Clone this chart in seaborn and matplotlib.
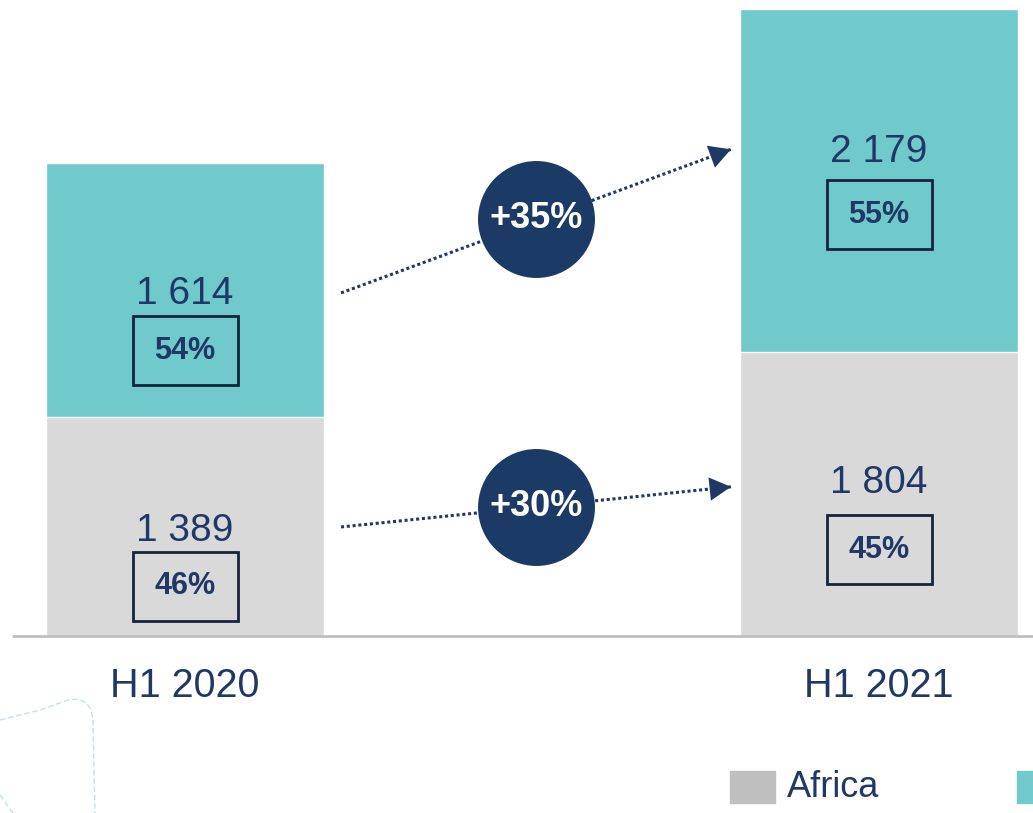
import matplotlib
matplotlib.use('Agg')
import matplotlib.pyplot as plt
import seaborn as sns
import pandas as pd
from matplotlib.patches import Rectangle, PathPatch
from matplotlib.path import Path

# data
periods = ['H1 2020', 'H1 2021']
africa = [1389, 1804]
rest = [1614, 2179]
africa_share = ['46%', '45%']
rest_share = ['54%', '55%']
growth_labels = ['+35%', '+30%']   # rest, africa
legend_labels = ['Africa']

# label placement (data units)
rest_label_y = [2170, 3070]
rest_box_y = [1810, 2673]
africa_label_y = [668, 970]
africa_box_y = [317, 546]

TEAL = '#70C9CA'
GREY = '#D9D9D9'
LEGEND_GREY = '#BFBFBF'
NAVY = '#1F3864'
CIRCLE = '#1B3A66'
BOX_EDGE = '#16253B'

sns.set_style('white')
plt.rcParams['font.family'] = ['Liberation Sans', 'DejaVu Sans']

df = pd.DataFrame({'period': periods, 'africa': africa, 'rest': rest})
df['total'] = df['africa'] + df['rest']

fig = plt.figure(figsize=(10.33, 8.13), dpi=100)
ax = fig.add_axes([0, 0, 1, 1])

# stacked bars: total first, then africa on top of it
sns.barplot(data=df, x='period', y='total', color=TEAL, width=0.4006,
            saturation=1, ax=ax)
sns.barplot(data=df, x='period', y='africa', color=GREY, width=0.4006,
            saturation=1, ax=ax)

ax.set_xlim(-0.2666, 1.2219)
ax.set_ylim(-1124, 4038)
ax.axis('off')

# baseline
ax.hlines(0, -0.2493, 1.25, color=LEGEND_GREY, lw=2, zorder=3)

box_w = 0.1513
box_h = 438

for i, period in enumerate(periods):
    # values
    ax.text(i, rest_label_y[i], f'{rest[i]:,}'.replace(',', ' '), ha='center',
            va='center', fontsize=28, color=NAVY)
    ax.text(i, africa_label_y[i], f'{africa[i]:,}'.replace(',', ' '), ha='center',
            va='center', fontsize=28, color=NAVY)

    # share boxes
    for y, txt in [(rest_box_y[i], rest_share[i]), (africa_box_y[i], africa_share[i])]:
        ax.add_patch(Rectangle((i - box_w / 2, y - box_h / 2), box_w, box_h,
                               fill=False, edgecolor=BOX_EDGE, lw=2, zorder=4))
        ax.text(i, y, txt, ha='center', va='center', fontsize=22,
                fontweight='bold', color=NAVY, zorder=5)

    # category labels
    ax.text(i, -317, period, ha='center', va='center', fontsize=28.5, color=NAVY)

# growth arrows
arrows = [((0.2248, 2178), (0.7867, 3090)), ((0.2248, 692), (0.7867, 947))]
circle_y = [2650, 822]
for (start, end), cy, label in zip(arrows, circle_y, growth_labels):
    ax.plot([start[0], end[0]], [start[1], end[1]], color=NAVY, lw=2.2,
            linestyle=(0, (1, 0.9)), zorder=2)
    dx = end[0] - start[0]
    dy = end[1] - start[1]
    ax.annotate('', xy=end, xytext=(end[0] - dx * 0.05, end[1] - dy * 0.05),
                arrowprops=dict(arrowstyle='-|>,head_length=0.55,head_width=0.3',
                                color=NAVY, lw=0, mutation_scale=28,
                                shrinkA=0, shrinkB=0), zorder=2)
    ax.scatter([0.5058], [cy], s=7090, color=CIRCLE, zorder=5, linewidths=0)
    ax.text(0.5058, cy, label, ha='center', va='center', fontsize=26,
            fontweight='bold', color='white', zorder=6)

# legend (second entry runs off the right edge)
W, H = 1033, 813
fig.patches.append(Rectangle((730 / W, (H - 803) / H), 45 / W, 32 / H,
                             transform=fig.transFigure, color=LEGEND_GREY))
fig.text(787 / W, (H - 787) / H, legend_labels[0], ha='left', va='center',
         fontsize=26, color=NAVY)
fig.patches.append(Rectangle((1017 / W, (H - 803) / H), 45 / W, 32 / H,
                             transform=fig.transFigure, color=TEAL))

# faint decorative outline bottom-left
verts = [(0, 720), (40, 710), (68, 700), (93, 695), (93, 725), (95, 813)]
codes = [Path.MOVETO, Path.LINETO, Path.LINETO, Path.CURVE3, Path.CURVE3, Path.LINETO]
deco = Path([(x / W, (H - y) / H) for x, y in verts], codes)
fig.patches.append(PathPatch(deco, transform=fig.transFigure, fill=False,
                             edgecolor='#BFE3E4', lw=1, linestyle=(0, (4, 2))))
deco2 = Path([(0 / W, (H - 795) / H), (13 / W, (H - 813) / H)])
fig.patches.append(PathPatch(deco2, transform=fig.transFigure, fill=False,
                             edgecolor='#BFE3E4', lw=1, linestyle=(0, (4, 2))))

fig.savefig('out.png', dpi=100)
